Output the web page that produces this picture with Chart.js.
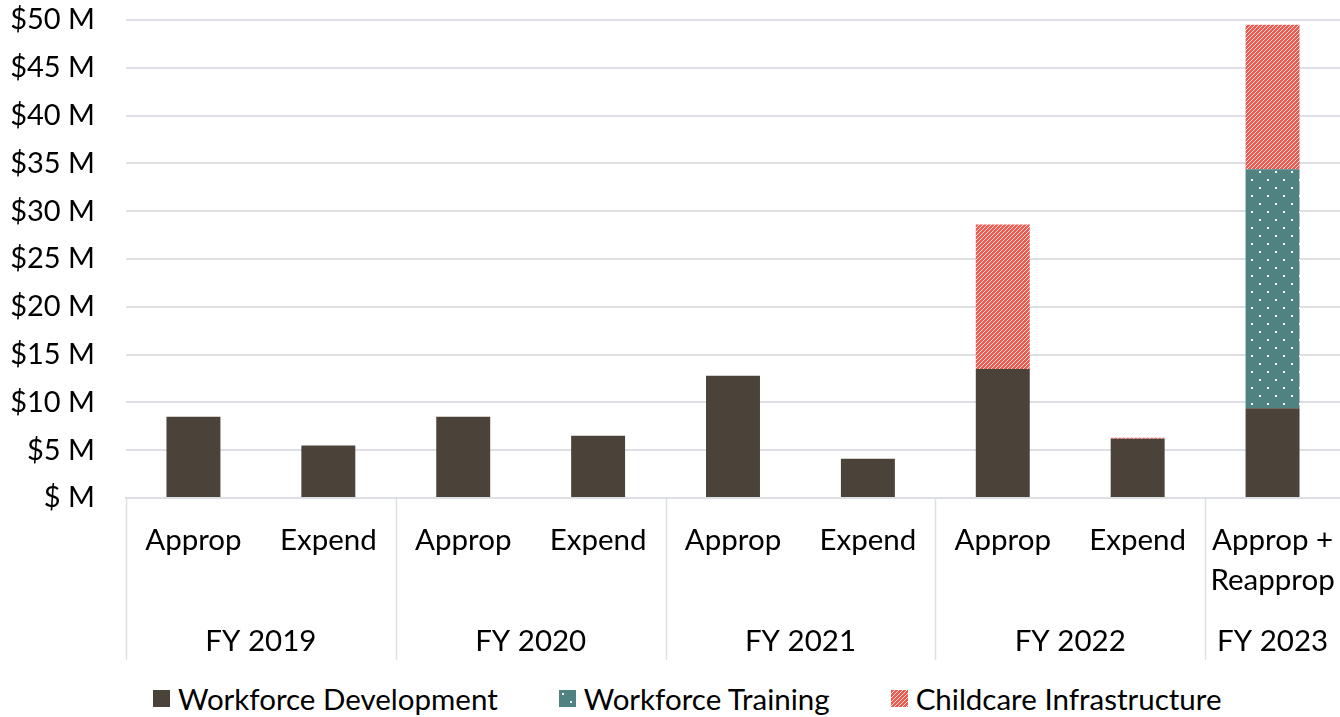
<!DOCTYPE html>
<html>
<head>
<meta charset="utf-8">
<script src="https://cdn.jsdelivr.net/npm/chart.js@4.4.0/dist/chart.umd.min.js"></script>
<style>
  html, body { margin: 0; padding: 0; background: #fff; }
  #wrap { position: relative; width: 1340px; height: 717px; }
  #chartBox { position: absolute; left: 0; top: 0; width: 1340px; height: 660px; }
  #legend { position: absolute; left: 153px; top: 681px; display: flex; align-items: center;
            font-family: Lato, sans-serif; font-size: 29.5px; color: #000; white-space: nowrap; }
  .item { display: flex; align-items: center; margin-right: 61px; }
  .item canvas { width: 17px; height: 17px; margin-right: 8px; }
</style>
</head>
<body>
<div id="wrap">
  <div id="chartBox"><canvas id="fundChart"></canvas></div>
  <div id="legend"></div>
</div>
<script>
// Data
const categories = ['Approp', 'Expend', 'Approp', 'Expend', 'Approp', 'Expend', 'Approp', 'Expend', ['Approp +', 'Reapprop']];
const fiscalYears = ['FY 2019', 'FY 2020', 'FY 2021', 'FY 2022', 'FY 2023'];
const yearSpans = [2, 2, 2, 2, 1];
const workforceDevelopment = [8.5, 5.5, 8.5, 6.5, 12.8, 4.1, 13.5, 6.2, 9.4];
const workforceTraining = [0, 0, 0, 0, 0, 0, 0, 0, 25.0];
const childcareInfrastructure = [0, 0, 0, 0, 0, 0, 15.1, 0.1, 15.1];

const FONT = 'Lato, sans-serif';
const gridColor = '#DCE0E4';

// Fill patterns
function dotPattern() {
    const c = document.createElement('canvas');
    c.width = 16; c.height = 16;
    const g = c.getContext('2d');
    g.fillStyle = '#4F8280';
    g.fillRect(0, 0, 16, 16);
    g.fillStyle = '#ffffff';
    g.fillRect(3, 3, 2, 2);
    g.fillRect(11, 11, 2, 2);
    return g.createPattern(c, 'repeat');
}

function stripePattern() {
    const c = document.createElement('canvas');
    c.width = 4; c.height = 4;
    const g = c.getContext('2d');
    g.fillStyle = '#EF5A50';
    g.fillRect(0, 0, 4, 4);
    g.fillStyle = '#F3E3E1';
    for (let x = 0; x < 4; x++) g.fillRect(x, 3 - x, 1, 1);
    return g.createPattern(c, 'repeat');
}

const fills = ['#4B4339', dotPattern(), stripePattern()];
const names = ['Workforce Development', 'Workforce Training', 'Childcare Infrastructure'];

// Year group labels and separators under the axis
const yearGroups = {
    id: 'yearGroups',
    afterDraw(chart) {
        const x = chart.scales.x;
        const ctx = chart.ctx;
        const half = (x.getPixelForValue(1) - x.getPixelForValue(0)) / 2;
        let start = 0;
        ctx.save();
        ctx.strokeStyle = gridColor;
        ctx.lineWidth = 1.5;
        ctx.fillStyle = '#000';
        ctx.font = '29.5px ' + FONT;
        ctx.textAlign = 'center';
        ctx.textBaseline = 'middle';
        fiscalYears.forEach((fy, i) => {
            const end = start + yearSpans[i] - 1;
            const left = Math.round(x.getPixelForValue(start) - half) + 0.5;
            ctx.beginPath();
            ctx.moveTo(left, x.top);
            ctx.lineTo(left, x.bottom);
            ctx.stroke();
            const cx = (x.getPixelForValue(start) + x.getPixelForValue(end)) / 2;
            ctx.fillText(fy, cx, x.bottom - 19);
            start = end + 1;
        });
        ctx.restore();
    }
};

const ctx = document.getElementById('fundChart').getContext('2d');
const fundChart = new Chart(ctx, {
    type: 'bar',
    data: {
        labels: categories,
        datasets: [
            { label: names[0], data: workforceDevelopment, backgroundColor: fills[0] },
            { label: names[1], data: workforceTraining, backgroundColor: fills[1] },
            { label: names[2], data: childcareInfrastructure, backgroundColor: fills[2] }
        ]
    },
    options: {
        responsive: true,
        maintainAspectRatio: false,
        animation: false,
        categoryPercentage: 1,
        barPercentage: 0.4,
        borderWidth: 0,
        layout: { padding: { top: 20, right: 0, bottom: 0, left: 0 } },
        plugins: {
            legend: { display: false },
            tooltip: { enabled: false }
        },
        scales: {
            x: {
                stacked: true,
                grid: { display: false },
                border: { display: true, color: gridColor, width: 2 },
                ticks: {
                    color: '#000',
                    font: { family: FONT, size: 29.5, lineHeight: 1.36 },
                    maxRotation: 0,
                    autoSkip: false,
                    padding: 14
                },
                afterFit(scale) {
                    scale.height = 162;
                    scale.paddingLeft = 0;
                    scale.paddingRight = 0;
                }
            },
            y: {
                stacked: true,
                min: 0,
                max: 50,
                grid: { color: gridColor, lineWidth: 2, drawTicks: false },
                border: { display: false },
                ticks: {
                    stepSize: 5,
                    color: '#000',
                    font: { family: FONT, size: 29 },
                    padding: 31,
                    callback: v => v === 0 ? '$ M' : '$' + v + ' M'
                },
                afterFit(scale) {
                    scale.width = 126;
                    scale.paddingTop = 0;
                    scale.paddingBottom = 0;
                }
            }
        }
    },
    plugins: [yearGroups]
});

// HTML legend
const legend = document.getElementById('legend');
names.forEach((name, i) => {
    const item = document.createElement('div');
    item.className = 'item';
    const sw = document.createElement('canvas');
    sw.width = 17; sw.height = 17;
    const g = sw.getContext('2d');
    g.fillStyle = fills[i];
    g.fillRect(0, 0, 17, 17);
    const label = document.createElement('span');
    label.textContent = name;
    item.appendChild(sw);
    item.appendChild(label);
    legend.appendChild(item);
});
</script>
</body>
</html>
